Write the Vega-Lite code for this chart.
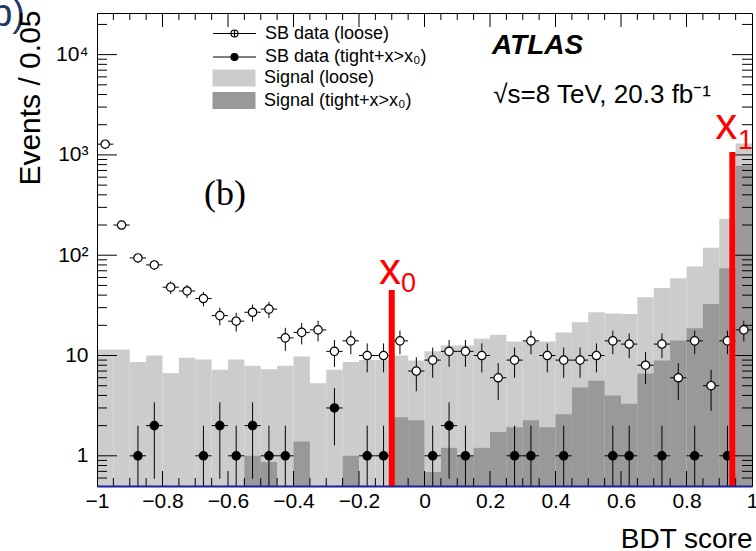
{
  "$schema": "https://vega.github.io/schema/vega-lite/v6.json",
  "width": 655,
  "height": 473,
  "autosize": {"type": "none"},
  "padding": {"left": 97, "top": 13, "right": 4, "bottom": 65},
  "background": "white",
  "config": {"view": {"stroke": "black", "strokeWidth": 1}, "font": "Liberation Sans"},
  "datasets": {
    "hist": [
      {"series": "Signal (loose)", "xlo": -1.0, "xhi": -0.95, "v": 11.5},
      {"series": "Signal (loose)", "xlo": -0.95, "xhi": -0.9, "v": 11.5},
      {"series": "Signal (loose)", "xlo": -0.9, "xhi": -0.85, "v": 8.6},
      {"series": "Signal (loose)", "xlo": -0.85, "xhi": -0.8, "v": 10.0},
      {"series": "Signal (loose)", "xlo": -0.8, "xhi": -0.75, "v": 6.7},
      {"series": "Signal (loose)", "xlo": -0.75, "xhi": -0.7, "v": 9.5},
      {"series": "Signal (loose)", "xlo": -0.7, "xhi": -0.65, "v": 9.1},
      {"series": "Signal (loose)", "xlo": -0.65, "xhi": -0.6, "v": 7.2},
      {"series": "Signal (loose)", "xlo": -0.6, "xhi": -0.55, "v": 9.1},
      {"series": "Signal (loose)", "xlo": -0.55, "xhi": -0.5, "v": 7.9},
      {"series": "Signal (loose)", "xlo": -0.5, "xhi": -0.45, "v": 7.3},
      {"series": "Signal (loose)", "xlo": -0.45, "xhi": -0.4, "v": 7.9},
      {"series": "Signal (loose)", "xlo": -0.4, "xhi": -0.35, "v": 9.8},
      {"series": "Signal (loose)", "xlo": -0.35, "xhi": -0.3, "v": 5.3},
      {"series": "Signal (loose)", "xlo": -0.3, "xhi": -0.25, "v": 7.2},
      {"series": "Signal (loose)", "xlo": -0.25, "xhi": -0.2, "v": 8.6},
      {"series": "Signal (loose)", "xlo": -0.2, "xhi": -0.15, "v": 9.0},
      {"series": "Signal (loose)", "xlo": -0.15, "xhi": -0.1, "v": 9.0},
      {"series": "Signal (loose)", "xlo": -0.1, "xhi": -0.05, "v": 10.0},
      {"series": "Signal (loose)", "xlo": -0.05, "xhi": 0.0, "v": 8.9},
      {"series": "Signal (loose)", "xlo": 0.0, "xhi": 0.05, "v": 11.0},
      {"series": "Signal (loose)", "xlo": 0.05, "xhi": 0.1, "v": 12.6},
      {"series": "Signal (loose)", "xlo": 0.1, "xhi": 0.15, "v": 12.6},
      {"series": "Signal (loose)", "xlo": 0.15, "xhi": 0.2, "v": 14.7},
      {"series": "Signal (loose)", "xlo": 0.2, "xhi": 0.25, "v": 16.1},
      {"series": "Signal (loose)", "xlo": 0.25, "xhi": 0.3, "v": 13.8},
      {"series": "Signal (loose)", "xlo": 0.3, "xhi": 0.35, "v": 13.8},
      {"series": "Signal (loose)", "xlo": 0.35, "xhi": 0.4, "v": 13.8},
      {"series": "Signal (loose)", "xlo": 0.4, "xhi": 0.45, "v": 17.0},
      {"series": "Signal (loose)", "xlo": 0.45, "xhi": 0.5, "v": 21.4},
      {"series": "Signal (loose)", "xlo": 0.5, "xhi": 0.55, "v": 27.0},
      {"series": "Signal (loose)", "xlo": 0.55, "xhi": 0.6, "v": 26.3},
      {"series": "Signal (loose)", "xlo": 0.6, "xhi": 0.65, "v": 26.0},
      {"series": "Signal (loose)", "xlo": 0.65, "xhi": 0.7, "v": 38.0},
      {"series": "Signal (loose)", "xlo": 0.7, "xhi": 0.75, "v": 47.0},
      {"series": "Signal (loose)", "xlo": 0.75, "xhi": 0.8, "v": 59.0},
      {"series": "Signal (loose)", "xlo": 0.8, "xhi": 0.85, "v": 77.0},
      {"series": "Signal (loose)", "xlo": 0.85, "xhi": 0.9, "v": 119.0},
      {"series": "Signal (loose)", "xlo": 0.9, "xhi": 0.95, "v": 229.0},
      {"series": "Signal (loose)", "xlo": 0.95, "xhi": 1.0, "v": 1300.0},
      {"series": "Signal (tight+x>x₀)", "xlo": -0.55, "xhi": -0.5, "v": 1.0},
      {"series": "Signal (tight+x>x₀)", "xlo": -0.5, "xhi": -0.45, "v": 0.87},
      {"series": "Signal (tight+x>x₀)", "xlo": -0.4, "xhi": -0.35, "v": 1.39},
      {"series": "Signal (tight+x>x₀)", "xlo": -0.25, "xhi": -0.2, "v": 1.0},
      {"series": "Signal (tight+x>x₀)", "xlo": -0.1, "xhi": -0.05, "v": 2.43},
      {"series": "Signal (tight+x>x₀)", "xlo": -0.05, "xhi": 0.0, "v": 2.26},
      {"series": "Signal (tight+x>x₀)", "xlo": 0.0, "xhi": 0.05, "v": 0.69},
      {"series": "Signal (tight+x>x₀)", "xlo": 0.05, "xhi": 0.1, "v": 1.2},
      {"series": "Signal (tight+x>x₀)", "xlo": 0.1, "xhi": 0.15, "v": 1.0},
      {"series": "Signal (tight+x>x₀)", "xlo": 0.15, "xhi": 0.2, "v": 1.2},
      {"series": "Signal (tight+x>x₀)", "xlo": 0.2, "xhi": 0.25, "v": 1.73},
      {"series": "Signal (tight+x>x₀)", "xlo": 0.25, "xhi": 0.3, "v": 1.93},
      {"series": "Signal (tight+x>x₀)", "xlo": 0.3, "xhi": 0.35, "v": 2.26},
      {"series": "Signal (tight+x>x₀)", "xlo": 0.35, "xhi": 0.4, "v": 1.93},
      {"series": "Signal (tight+x>x₀)", "xlo": 0.4, "xhi": 0.45, "v": 2.6},
      {"series": "Signal (tight+x>x₀)", "xlo": 0.45, "xhi": 0.5, "v": 4.8},
      {"series": "Signal (tight+x>x₀)", "xlo": 0.5, "xhi": 0.55, "v": 5.6},
      {"series": "Signal (tight+x>x₀)", "xlo": 0.55, "xhi": 0.6, "v": 4.0},
      {"series": "Signal (tight+x>x₀)", "xlo": 0.6, "xhi": 0.65, "v": 3.3},
      {"series": "Signal (tight+x>x₀)", "xlo": 0.65, "xhi": 0.7, "v": 6.6},
      {"series": "Signal (tight+x>x₀)", "xlo": 0.7, "xhi": 0.75, "v": 8.9},
      {"series": "Signal (tight+x>x₀)", "xlo": 0.75, "xhi": 0.8, "v": 14.1},
      {"series": "Signal (tight+x>x₀)", "xlo": 0.8, "xhi": 0.85, "v": 18.7},
      {"series": "Signal (tight+x>x₀)", "xlo": 0.85, "xhi": 0.9, "v": 32.7},
      {"series": "Signal (tight+x>x₀)", "xlo": 0.9, "xhi": 0.95, "v": 74.0},
      {"series": "Signal (tight+x>x₀)", "xlo": 0.95, "xhi": 1.0, "v": 780.0}
    ],
    "sb": [
      {"series": "SB data (loose)", "x": -0.975, "xlo": -1.0, "xhi": -0.95, "n": 1280, "lo": 1244.2, "hi": 1315.8},
      {"series": "SB data (loose)", "x": -0.925, "xlo": -0.95, "xhi": -0.9, "n": 200, "lo": 185.9, "hi": 214.1},
      {"series": "SB data (loose)", "x": -0.875, "xlo": -0.9, "xhi": -0.85, "n": 94, "lo": 84.3, "hi": 103.7},
      {"series": "SB data (loose)", "x": -0.825, "xlo": -0.85, "xhi": -0.8, "n": 80, "lo": 71.1, "hi": 88.9},
      {"series": "SB data (loose)", "x": -0.775, "xlo": -0.8, "xhi": -0.75, "n": 48, "lo": 41.1, "hi": 54.9},
      {"series": "SB data (loose)", "x": -0.725, "xlo": -0.75, "xhi": -0.7, "n": 44, "lo": 37.4, "hi": 50.6},
      {"series": "SB data (loose)", "x": -0.675, "xlo": -0.7, "xhi": -0.65, "n": 37, "lo": 30.9, "hi": 43.1},
      {"series": "SB data (loose)", "x": -0.625, "xlo": -0.65, "xhi": -0.6, "n": 25, "lo": 20.0, "hi": 30.0},
      {"series": "SB data (loose)", "x": -0.575, "xlo": -0.6, "xhi": -0.55, "n": 22, "lo": 17.3, "hi": 26.7},
      {"series": "SB data (loose)", "x": -0.525, "xlo": -0.55, "xhi": -0.5, "n": 27, "lo": 21.8, "hi": 32.2},
      {"series": "SB data (loose)", "x": -0.475, "xlo": -0.5, "xhi": -0.45, "n": 29, "lo": 23.6, "hi": 34.4},
      {"series": "SB data (loose)", "x": -0.425, "xlo": -0.45, "xhi": -0.4, "n": 15, "lo": 11.1, "hi": 18.9},
      {"series": "SB data (loose)", "x": -0.375, "xlo": -0.4, "xhi": -0.35, "n": 17, "lo": 12.9, "hi": 21.1},
      {"series": "SB data (loose)", "x": -0.325, "xlo": -0.35, "xhi": -0.3, "n": 18, "lo": 13.8, "hi": 22.2},
      {"series": "SB data (loose)", "x": -0.275, "xlo": -0.3, "xhi": -0.25, "n": 11, "lo": 7.7, "hi": 14.3},
      {"series": "SB data (loose)", "x": -0.225, "xlo": -0.25, "xhi": -0.2, "n": 14, "lo": 10.3, "hi": 17.7},
      {"series": "SB data (loose)", "x": -0.175, "xlo": -0.2, "xhi": -0.15, "n": 10, "lo": 6.8, "hi": 13.2},
      {"series": "SB data (loose)", "x": -0.125, "xlo": -0.15, "xhi": -0.1, "n": 10, "lo": 6.8, "hi": 13.2},
      {"series": "SB data (loose)", "x": -0.075, "xlo": -0.1, "xhi": -0.05, "n": 14, "lo": 10.3, "hi": 17.7},
      {"series": "SB data (loose)", "x": -0.025, "xlo": -0.05, "xhi": 0.0, "n": 7, "lo": 4.4, "hi": 9.6},
      {"series": "SB data (loose)", "x": 0.025, "xlo": 0.0, "xhi": 0.05, "n": 9, "lo": 6.0, "hi": 12.0},
      {"series": "SB data (loose)", "x": 0.075, "xlo": 0.05, "xhi": 0.1, "n": 11, "lo": 7.7, "hi": 14.3},
      {"series": "SB data (loose)", "x": 0.125, "xlo": 0.1, "xhi": 0.15, "n": 11, "lo": 7.7, "hi": 14.3},
      {"series": "SB data (loose)", "x": 0.175, "xlo": 0.15, "xhi": 0.2, "n": 10, "lo": 6.8, "hi": 13.2},
      {"series": "SB data (loose)", "x": 0.225, "xlo": 0.2, "xhi": 0.25, "n": 6, "lo": 3.6, "hi": 8.4},
      {"series": "SB data (loose)", "x": 0.275, "xlo": 0.25, "xhi": 0.3, "n": 9, "lo": 6.0, "hi": 12.0},
      {"series": "SB data (loose)", "x": 0.325, "xlo": 0.3, "xhi": 0.35, "n": 14, "lo": 10.3, "hi": 17.7},
      {"series": "SB data (loose)", "x": 0.375, "xlo": 0.35, "xhi": 0.4, "n": 10, "lo": 6.8, "hi": 13.2},
      {"series": "SB data (loose)", "x": 0.425, "xlo": 0.4, "xhi": 0.45, "n": 9, "lo": 6.0, "hi": 12.0},
      {"series": "SB data (loose)", "x": 0.475, "xlo": 0.45, "xhi": 0.5, "n": 9, "lo": 6.0, "hi": 12.0},
      {"series": "SB data (loose)", "x": 0.525, "xlo": 0.5, "xhi": 0.55, "n": 10, "lo": 6.8, "hi": 13.2},
      {"series": "SB data (loose)", "x": 0.575, "xlo": 0.55, "xhi": 0.6, "n": 14, "lo": 10.3, "hi": 17.7},
      {"series": "SB data (loose)", "x": 0.625, "xlo": 0.6, "xhi": 0.65, "n": 13, "lo": 9.4, "hi": 16.6},
      {"series": "SB data (loose)", "x": 0.675, "xlo": 0.65, "xhi": 0.7, "n": 8, "lo": 5.2, "hi": 10.8},
      {"series": "SB data (loose)", "x": 0.725, "xlo": 0.7, "xhi": 0.75, "n": 13, "lo": 9.4, "hi": 16.6},
      {"series": "SB data (loose)", "x": 0.775, "xlo": 0.75, "xhi": 0.8, "n": 6, "lo": 3.6, "hi": 8.4},
      {"series": "SB data (loose)", "x": 0.825, "xlo": 0.8, "xhi": 0.85, "n": 14, "lo": 10.3, "hi": 17.7},
      {"series": "SB data (loose)", "x": 0.875, "xlo": 0.85, "xhi": 0.9, "n": 5, "lo": 2.8, "hi": 7.2},
      {"series": "SB data (loose)", "x": 0.925, "xlo": 0.9, "xhi": 0.95, "n": 14, "lo": 10.3, "hi": 17.7},
      {"series": "SB data (loose)", "x": 0.975, "xlo": 0.95, "xhi": 1.0, "n": 18, "lo": 13.8, "hi": 22.2},
      {"series": "SB data (tight+x>x₀)", "x": -0.875, "xlo": -0.9, "xhi": -0.85, "n": 1, "lo": 0.5, "hi": 2.0},
      {"series": "SB data (tight+x>x₀)", "x": -0.825, "xlo": -0.85, "xhi": -0.8, "n": 2, "lo": 0.59, "hi": 3.41},
      {"series": "SB data (tight+x>x₀)", "x": -0.675, "xlo": -0.7, "xhi": -0.65, "n": 1, "lo": 0.5, "hi": 2.0},
      {"series": "SB data (tight+x>x₀)", "x": -0.625, "xlo": -0.65, "xhi": -0.6, "n": 2, "lo": 0.59, "hi": 3.41},
      {"series": "SB data (tight+x>x₀)", "x": -0.575, "xlo": -0.6, "xhi": -0.55, "n": 1, "lo": 0.5, "hi": 2.0},
      {"series": "SB data (tight+x>x₀)", "x": -0.525, "xlo": -0.55, "xhi": -0.5, "n": 2, "lo": 0.59, "hi": 3.41},
      {"series": "SB data (tight+x>x₀)", "x": -0.475, "xlo": -0.5, "xhi": -0.45, "n": 1, "lo": 0.5, "hi": 2.0},
      {"series": "SB data (tight+x>x₀)", "x": -0.425, "xlo": -0.45, "xhi": -0.4, "n": 1, "lo": 0.5, "hi": 2.0},
      {"series": "SB data (tight+x>x₀)", "x": -0.275, "xlo": -0.3, "xhi": -0.25, "n": 3, "lo": 1.27, "hi": 4.73},
      {"series": "SB data (tight+x>x₀)", "x": -0.175, "xlo": -0.2, "xhi": -0.15, "n": 1, "lo": 0.5, "hi": 2.0},
      {"series": "SB data (tight+x>x₀)", "x": -0.125, "xlo": -0.15, "xhi": -0.1, "n": 1, "lo": 0.5, "hi": 2.0},
      {"series": "SB data (tight+x>x₀)", "x": 0.025, "xlo": 0.0, "xhi": 0.05, "n": 1, "lo": 0.5, "hi": 2.0},
      {"series": "SB data (tight+x>x₀)", "x": 0.075, "xlo": 0.05, "xhi": 0.1, "n": 2, "lo": 0.59, "hi": 3.41},
      {"series": "SB data (tight+x>x₀)", "x": 0.125, "xlo": 0.1, "xhi": 0.15, "n": 1, "lo": 0.5, "hi": 2.0},
      {"series": "SB data (tight+x>x₀)", "x": 0.275, "xlo": 0.25, "xhi": 0.3, "n": 1, "lo": 0.5, "hi": 2.0},
      {"series": "SB data (tight+x>x₀)", "x": 0.325, "xlo": 0.3, "xhi": 0.35, "n": 1, "lo": 0.5, "hi": 2.0},
      {"series": "SB data (tight+x>x₀)", "x": 0.425, "xlo": 0.4, "xhi": 0.45, "n": 1, "lo": 0.5, "hi": 2.0},
      {"series": "SB data (tight+x>x₀)", "x": 0.575, "xlo": 0.55, "xhi": 0.6, "n": 1, "lo": 0.5, "hi": 2.0},
      {"series": "SB data (tight+x>x₀)", "x": 0.625, "xlo": 0.6, "xhi": 0.65, "n": 1, "lo": 0.5, "hi": 2.0},
      {"series": "SB data (tight+x>x₀)", "x": 0.725, "xlo": 0.7, "xhi": 0.75, "n": 1, "lo": 0.5, "hi": 2.0},
      {"series": "SB data (tight+x>x₀)", "x": 0.825, "xlo": 0.8, "xhi": 0.85, "n": 1, "lo": 0.5, "hi": 2.0},
      {"series": "SB data (tight+x>x₀)", "x": 0.925, "xlo": 0.9, "xhi": 0.95, "n": 1, "lo": 0.5, "hi": 2.0}
    ],
    "cuts": [
      {"cut": "x0", "x": -0.1, "top": 45},
      {"cut": "x1", "x": 0.94, "top": 1070}
    ],
    "xmajor": [{"v": -0.8}, {"v": -0.6}, {"v": -0.4}, {"v": -0.2}, {"v": 0}, {"v": 0.2}, {"v": 0.4}, {"v": 0.6}, {"v": 0.8}],
    "xminor": [{"v": -0.95}, {"v": -0.9}, {"v": -0.85}, {"v": -0.75}, {"v": -0.7}, {"v": -0.65}, {"v": -0.55}, {"v": -0.5}, {"v": -0.45}, {"v": -0.35}, {"v": -0.3}, {"v": -0.25}, {"v": -0.15}, {"v": -0.1}, {"v": -0.05}, {"v": 0.05}, {"v": 0.1}, {"v": 0.15}, {"v": 0.25}, {"v": 0.3}, {"v": 0.35}, {"v": 0.45}, {"v": 0.5}, {"v": 0.55}, {"v": 0.65}, {"v": 0.7}, {"v": 0.75}, {"v": 0.85}, {"v": 0.9}, {"v": 0.95}],
    "ymajor": [{"v": 1}, {"v": 10}, {"v": 100}, {"v": 1000}, {"v": 10000}],
    "yminor": [{"v": 0.6}, {"v": 0.7}, {"v": 0.8}, {"v": 0.9}, {"v": 2}, {"v": 3}, {"v": 4}, {"v": 5}, {"v": 6}, {"v": 7}, {"v": 8}, {"v": 9}, {"v": 20}, {"v": 30}, {"v": 40}, {"v": 50}, {"v": 60}, {"v": 70}, {"v": 80}, {"v": 90}, {"v": 200}, {"v": 300}, {"v": 400}, {"v": 500}, {"v": 600}, {"v": 700}, {"v": 800}, {"v": 900}, {"v": 2000}, {"v": 3000}, {"v": 4000}, {"v": 5000}, {"v": 6000}, {"v": 7000}, {"v": 8000}, {"v": 9000}, {"v": 20000}]
  },
  "resolve": {
    "scale": {"fill": "independent"},
    "legend": {"fill": "independent"},
    "axis": {"x": "independent", "y": "independent"}
  },
  "layer": [
    {
      "data": {"name": "hist"},
      "mark": {"type": "rect", "opacity": 1},
      "encoding": {
        "x": {
          "field": "xlo", "type": "quantitative",
          "scale": {"domain": [-1, 1], "nice": false, "zero": false},
          "axis": {
            "orient": "bottom", "zindex": 1, "values": [-1, -0.8, -0.6, -0.4, -0.2, 0, 0.2, 0.4, 0.6, 0.8, 1],
            "format": "~g", "ticks": false, "grid": false,
            "labelFontSize": 21, "labelFont": "Liberation Sans", "labelColor": "black", "labelPadding": 4,
            "labelFlush": false, "labelOverlap": false,
            "domainColor": "#1f1f9e", "domainWidth": 2,
            "title": "BDT score", "titleFontSize": 28, "titleFontWeight": "normal", "titleColor": "black",
            "titleFont": "Liberation Sans", "titleX": 655, "titleY": 61, "titleAlign": "right", "titleBaseline": "alphabetic", "titleAngle": 0
          }
        },
        "x2": {"field": "xhi"},
        "y": {
          "field": "v", "type": "quantitative",
          "scale": {"type": "log", "domain": [0.5, 26000], "nice": false},
          "axis": {
            "orient": "left", "zindex": 1, "values": [1, 10, 100, 1000, 10000], "ticks": false, "grid": false,
            "labelExpr": "datum.value == 1 ? '1' : datum.value == 10 ? '10' : datum.value == 100 ? '10²' : datum.value == 1000 ? '10³' : '10⁴'",
            "labelFontSize": 21, "labelFont": "Liberation Sans", "labelColor": "black", "labelPadding": 9,
            "domainColor": "black", "domainWidth": 1,
            "title": "Events / 0.05", "titleFontSize": 30, "titleFontWeight": "normal", "titleColor": "black",
            "titleFont": "Liberation Sans", "titleX": -58, "titleY": -3, "titleAlign": "right", "titleBaseline": "alphabetic", "titleAngle": -90
          }
        },
        "y2": {"datum": 0.5},
        "fill": {
          "field": "series", "type": "nominal",
          "scale": {"domain": ["Signal (loose)", "Signal (tight+x>x₀)"], "range": ["#cccccc", "#999999"]},
          "legend": {
            "orient": "none", "legendX": 128, "legendY": 56, "title": null, "padding": 0,
            "symbolType": "M-2.53,-1H2.53V1H-2.53Z", "symbolSize": 289, "symbolStrokeWidth": 0,
            "labelFontSize": 18, "labelFont": "Liberation Sans", "labelColor": "black", "labelOffset": 21, "rowPadding": 4.5, "labelLimit": 0
          }
        }
      }
    },
    {
      "data": {"name": "sb"},
      "mark": {"type": "rule", "color": "black", "strokeWidth": 1},
      "encoding": {
        "x": {"field": "x", "type": "quantitative", "axis": null},
        "y": {"field": "lo", "type": "quantitative", "axis": null},
        "y2": {"field": "hi"}
      }
    },
    {
      "data": {"name": "sb"},
      "mark": {"type": "rule", "color": "black", "strokeWidth": 1},
      "encoding": {
        "x": {"field": "xlo", "type": "quantitative", "axis": null},
        "x2": {"field": "xhi"},
        "y": {"field": "n", "type": "quantitative", "axis": null}
      }
    },
    {
      "data": {"name": "sb"},
      "mark": {"type": "point", "shape": "circle", "filled": true, "size": 70, "stroke": "black", "strokeWidth": 1.2, "opacity": 1},
      "encoding": {
        "x": {"field": "x", "type": "quantitative", "axis": null},
        "y": {"field": "n", "type": "quantitative", "axis": null},
        "fill": {
          "field": "series", "type": "nominal",
          "scale": {"domain": ["SB data (loose)", "SB data (tight+x>x₀)"], "range": ["white", "black"]},
          "legend": {
            "orient": "none", "legendX": 128, "legendY": 11, "title": null, "padding": 0,
            "symbolType": "M-2.53,0H2.53M0,-0.41V0.41M-0.41,0A0.41,0.41 0 1 0 0.41,0A0.41,0.41 0 1 0 -0.41,0",
            "symbolSize": 289, "symbolStrokeColor": "black", "symbolStrokeWidth": 1.2,
            "labelFontSize": 18, "labelFont": "Liberation Sans", "labelColor": "black", "labelOffset": 21, "rowPadding": 4.5, "labelLimit": 0
          }
        }
      }
    },
    {
      "data": {"name": "xmajor"},
      "mark": {"type": "rule", "color": "black", "strokeWidth": 1},
      "encoding": {
        "x": {"field": "v", "type": "quantitative", "axis": null},
        "y": {"datum": 0.5, "axis": null},
        "y2": {"datum": 0.705}
      }
    },
    {
      "data": {"name": "xminor"},
      "mark": {"type": "rule", "color": "black", "strokeWidth": 1},
      "encoding": {
        "x": {"field": "v", "type": "quantitative", "axis": null},
        "y": {"datum": 0.5, "axis": null},
        "y2": {"datum": 0.601}
      }
    },
    {
      "data": {"name": "xmajor"},
      "mark": {"type": "rule", "color": "black", "strokeWidth": 1},
      "encoding": {
        "x": {"field": "v", "type": "quantitative", "axis": null},
        "y": {"datum": 26000, "axis": null},
        "y2": {"datum": 18855}
      }
    },
    {
      "data": {"name": "xminor"},
      "mark": {"type": "rule", "color": "black", "strokeWidth": 1},
      "encoding": {
        "x": {"field": "v", "type": "quantitative", "axis": null},
        "y": {"datum": 26000, "axis": null},
        "y2": {"datum": 22145}
      }
    },
    {
      "data": {"name": "ymajor"},
      "mark": {"type": "rule", "color": "black", "strokeWidth": 1},
      "encoding": {
        "y": {"field": "v", "type": "quantitative", "axis": null},
        "x": {"datum": -1, "axis": null},
        "x2": {"datum": -0.939}
      }
    },
    {
      "data": {"name": "yminor"},
      "mark": {"type": "rule", "color": "black", "strokeWidth": 1},
      "encoding": {
        "y": {"field": "v", "type": "quantitative", "axis": null},
        "x": {"datum": -1, "axis": null},
        "x2": {"datum": -0.9695}
      }
    },
    {
      "data": {"name": "ymajor"},
      "mark": {"type": "rule", "color": "black", "strokeWidth": 1},
      "encoding": {
        "y": {"field": "v", "type": "quantitative", "axis": null},
        "x": {"datum": 1, "axis": null},
        "x2": {"datum": 0.939}
      }
    },
    {
      "data": {"name": "yminor"},
      "mark": {"type": "rule", "color": "black", "strokeWidth": 1},
      "encoding": {
        "y": {"field": "v", "type": "quantitative", "axis": null},
        "x": {"datum": 1, "axis": null},
        "x2": {"datum": 0.9695}
      }
    },
    {
      "data": {"name": "cuts"},
      "mark": {"type": "rule", "color": "#ff0000", "strokeWidth": 6},
      "encoding": {
        "x": {"field": "x", "type": "quantitative", "axis": null},
        "y": {"field": "top", "type": "quantitative", "axis": null},
        "y2": {"datum": 0.5}
      }
    },
    {
      "data": {"values": [{"t": "x", "x": -0.105, "y": 52}, {"t": "x", "x": 0.921, "y": 1443}]},
      "mark": {"type": "text", "color": "#ff0000", "fontSize": 44, "font": "Liberation Sans", "align": "center", "baseline": "alphabetic"},
      "encoding": {
        "x": {"field": "x", "type": "quantitative", "axis": null},
        "y": {"field": "y", "type": "quantitative", "axis": null},
        "text": {"field": "t"}
      }
    },
    {
      "data": {"values": [{"t": "0", "x": -0.072, "y": 43.3}, {"t": "1", "x": 0.957, "y": 1148}]},
      "mark": {"type": "text", "color": "#ff0000", "fontSize": 27, "font": "Liberation Sans", "align": "left", "baseline": "alphabetic"},
      "encoding": {
        "x": {"field": "x", "type": "quantitative", "axis": null},
        "y": {"field": "y", "type": "quantitative", "axis": null},
        "text": {"field": "t"}
      }
    },
    {
      "data": {"values": [{"t": "ATLAS", "x": 0.206, "y": 10200}]},
      "mark": {"type": "text", "color": "black", "fontSize": 28, "font": "Liberation Sans", "fontWeight": "bold", "fontStyle": "italic", "align": "left", "baseline": "alphabetic"},
      "encoding": {
        "x": {"field": "x", "type": "quantitative", "axis": null},
        "y": {"field": "y", "type": "quantitative", "axis": null},
        "text": {"field": "t"}
      }
    },
    {
      "data": {"values": [{"t": "√s=8 TeV, 20.3 fb⁻¹", "x": 0.21, "y": 3313}]},
      "mark": {"type": "text", "color": "black", "fontSize": 26, "font": "Liberation Sans", "align": "left", "baseline": "alphabetic"},
      "encoding": {
        "x": {"field": "x", "type": "quantitative", "axis": null},
        "y": {"field": "y", "type": "quantitative", "axis": null},
        "text": {"field": "t"}
      }
    },
    {
      "data": {"values": [{"t": "(b)", "x": -0.609, "y": 318}]},
      "mark": {"type": "text", "color": "black", "fontSize": 36, "font": "Liberation Serif", "align": "center", "baseline": "alphabetic"},
      "encoding": {
        "x": {"field": "x", "type": "quantitative", "axis": null},
        "y": {"field": "y", "type": "quantitative", "axis": null},
        "text": {"field": "t"}
      }
    },
    {
      "data": {"values": [{"t": "b)", "x": -1.22, "y": 19210}]},
      "mark": {"type": "text", "color": "#1f3864", "fontSize": 38, "font": "Liberation Sans", "align": "right", "baseline": "alphabetic"},
      "encoding": {
        "x": {"field": "x", "type": "quantitative", "axis": null},
        "y": {"field": "y", "type": "quantitative", "axis": null},
        "text": {"field": "t"}
      }
    }
  ]
}
